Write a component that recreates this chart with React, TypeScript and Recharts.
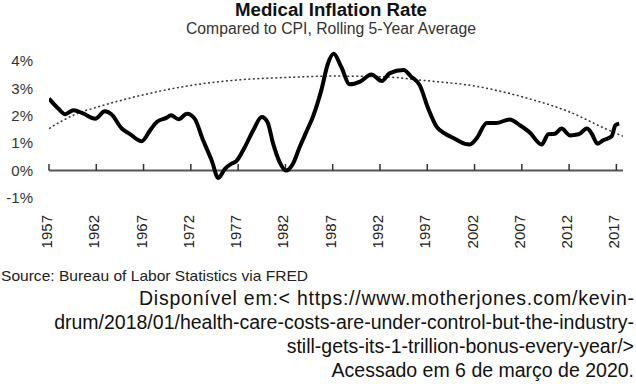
import React from 'react';
import { LineChart, Line, XAxis, YAxis, ReferenceLine } from 'recharts';

const medYears = [1957.0, 1958.0, 1958.7, 1959.6, 1960.6, 1961.9, 1962.9, 1963.6, 1964.7, 1965.6, 1966.8, 1967.7, 1968.4, 1969.4, 1969.9, 1970.7, 1971.6, 1972.4, 1973.3, 1974.2, 1974.9, 1975.6, 1976.3, 1976.8, 1977.7, 1978.6, 1979.5, 1980.1, 1980.7, 1981.4, 1982.05, 1982.8, 1983.5, 1984.2, 1984.9, 1985.8, 1986.5, 1987.1, 1987.9, 1988.8, 1989.9, 1991.1, 1992.2, 1993.0, 1994.5, 1995.3, 1996.2, 1997.1, 1998.0, 1998.9, 1999.9, 2001.0, 2001.5, 2002.2, 2003.3, 2004.3, 2005.7, 2006.8, 2007.8, 2009.1, 2009.8, 2010.5, 2011.2, 2012.1, 2013.0, 2013.9, 2014.4, 2015.0, 2015.6, 2016.5, 2016.9, 2017.3];
const medValues = [2.62, 2.25, 2.05, 2.2, 2.08, 1.89, 2.16, 2.05, 1.53, 1.32, 1.07, 1.47, 1.77, 1.92, 2.01, 1.87, 2.07, 1.89, 1.1, 0.37, -0.27, 0.06, 0.25, 0.34, 0.85, 1.47, 1.95, 1.77, 0.98, 0.3, 0.0, 0.25, 0.85, 1.4, 1.95, 2.93, 3.9, 4.25, 3.78, 3.14, 3.24, 3.5, 3.26, 3.54, 3.66, 3.42, 3.11, 2.26, 1.59, 1.34, 1.16, 0.97, 0.95, 1.16, 1.73, 1.73, 1.86, 1.65, 1.4, 0.95, 1.32, 1.34, 1.53, 1.28, 1.32, 1.53, 1.34, 0.98, 1.1, 1.25, 1.65, 1.71];

const trendYears = [1957, 1960, 1962, 1967, 1972, 1977, 1982, 1987, 1992, 1997, 2002, 2007, 2012, 2016, 2017.7];
const trendValues = [1.53, 2.08, 2.3, 2.76, 3.1, 3.3, 3.39, 3.44, 3.42, 3.27, 3.08, 2.69, 2.14, 1.5, 1.25];

const xTicks = [1957, 1962, 1967, 1972, 1977, 1982, 1987, 1992, 1997, 2002, 2007, 2012, 2017];
const yTicks = [-1, 0, 1, 2, 3, 4];

const title = 'Medical Inflation Rate';
const subtitle = 'Compared to CPI, Rolling 5-Year Average';
const source = 'Source: Bureau of Labor Statistics via FRED';
const citation = [
  'Disponível em:< https://www.motherjones.com/kevin-',
  'drum/2018/01/health-care-costs-are-under-control-but-the-industry-',
  'still-gets-its-1-trillion-bonus-every-year/>',
  'Acessado em 6 de março de 2020.',
];

const medData = medYears.map((x, i) => ({ x, v: medValues[i] }));
const trendData = trendYears.map((x, i) => ({ x, t: trendValues[i] }));

const FONT = '"Liberation Sans", Arial, Helvetica, sans-serif';

const XTick = (props: any) => {
  const { x, y, payload } = props;
  return (
    <text
      transform={`translate(${x + 3},${y + 9}) rotate(-90)`}
      textAnchor="end"
      fontSize={15}
      fontFamily={FONT}
      fill="#222"
    >
      {payload.value}
    </text>
  );
};

export default function App() {
  return (
    <div style={{ position: 'absolute', left: 0, top: 0, width: 636, height: 384, background: '#fff' }}>
      <LineChart
        width={636}
        height={260}
        margin={{ top: 47, right: 13, left: 0, bottom: 0 }}
      >
        <XAxis
          dataKey="x"
          type="number"
          domain={[1957, 2017.7]}
          ticks={xTicks}
          interval={0}
          allowDataOverflow
          axisLine={false}
          tickLine={false}
          height={62}
          tick={<XTick />}
        />
        <YAxis
          type="number"
          domain={[-1, 4.5]}
          ticks={yTicks}
          allowDataOverflow
          axisLine={false}
          tickLine={false}
          tickSize={0}
          tickMargin={16}
          width={49}
          tickFormatter={(v: number) => `${v}%`}
          tick={{ fontSize: 15, fontFamily: FONT, fill: '#333' }}
        />
        <ReferenceLine y={0} stroke="#555" strokeWidth={2} />
        {xTicks.map((t) => (
          <ReferenceLine
            key={t}
            segment={[{ x: t, y: 0 }, { x: t, y: 0.24 }]}
            stroke="#333"
            strokeWidth={1.5}
          />
        ))}
        <Line
          data={trendData}
          dataKey="t"
          type="monotone"
          stroke="#333"
          strokeWidth={1.5}
          strokeDasharray="2 2.5"
          dot={false}
          isAnimationActive={false}
        />
        <Line
          data={medData}
          dataKey="v"
          type="monotone"
          stroke="#000"
          strokeWidth={4}
          dot={false}
          isAnimationActive={false}
        />
      </LineChart>
      <svg
        width={636}
        height={384}
        style={{ position: 'absolute', left: 0, top: 0, pointerEvents: 'none' }}
        fontFamily={FONT}
      >
        <text x={235} y={16} fontSize={17.5} fontWeight="bold" fill="#111" textLength={192} lengthAdjust="spacingAndGlyphs">
          {title}
        </text>
        <text x={186} y={34} fontSize={16} fill="#333" textLength={290} lengthAdjust="spacingAndGlyphs">
          {subtitle}
        </text>
        <text x={1} y={281} fontSize={15} fill="#222" textLength={307} lengthAdjust="spacingAndGlyphs">
          {source}
        </text>
        <text x={139} y={305} fontSize={19.5} fill="#111" textLength={495} lengthAdjust="spacing">
          {citation[0]}
        </text>
        {citation.slice(1).map((line, i) => (
          <text key={i} x={634} y={329 + i * 24} textAnchor="end" fontSize={19.5} fill="#111">
            {line}
          </text>
        ))}
      </svg>
    </div>
  );
}
